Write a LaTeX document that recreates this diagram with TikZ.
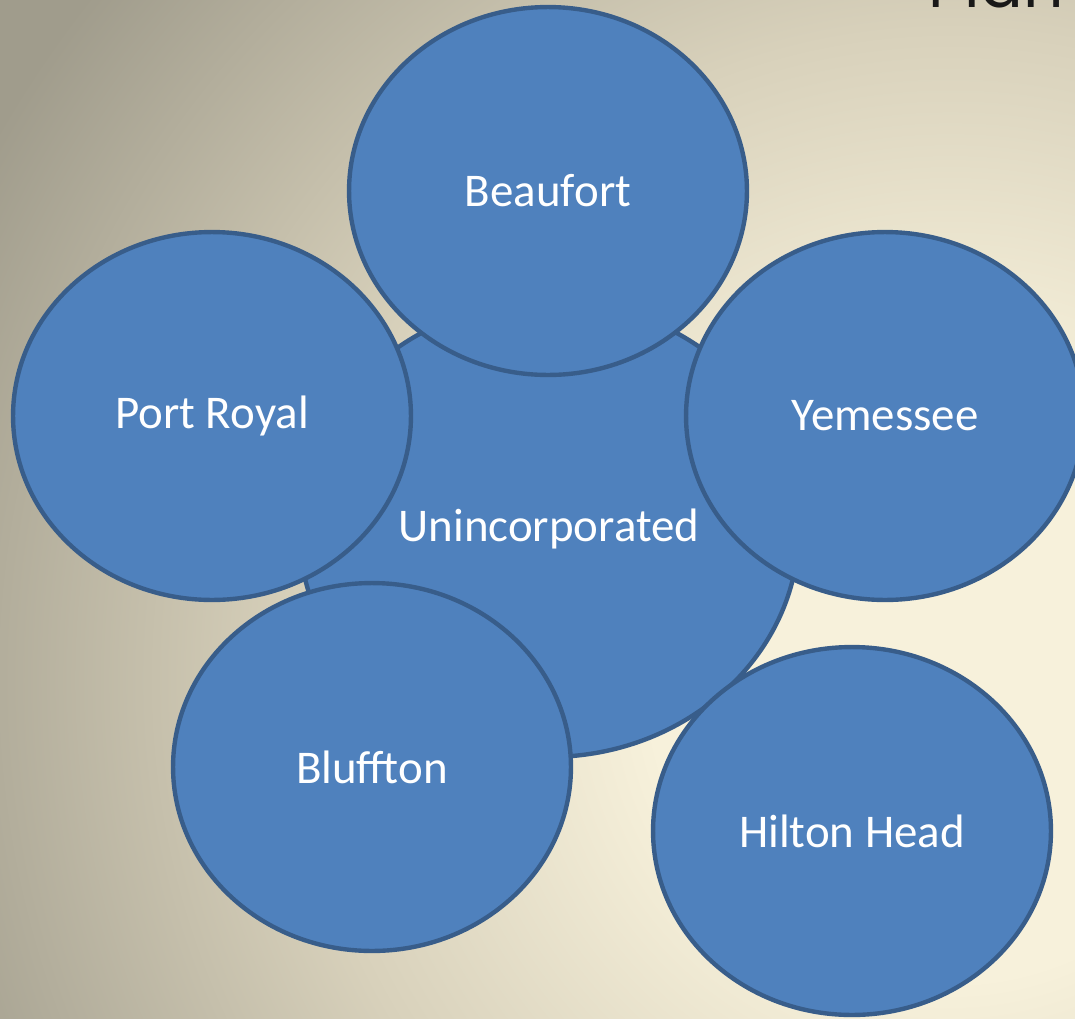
\documentclass[tikz,border=0pt]{standalone}
\usepackage{fontspec}
\setmainfont{Carlito}
\newfontfamily\titlefont{Poppins}
\usetikzlibrary{shapes.geometric}
\definecolor{townfill}{HTML}{4F81BD}
\definecolor{townline}{HTML}{385D8A}
\definecolor{bgcream}{HTML}{F7F1DB}
\definecolor{bgmid}{HTML}{D8D1BB}
\definecolor{bggray}{HTML}{A09C8C}
\pgfdeclareradialshading{bgshade}{\pgfpoint{0bp}{0bp}}{color(0bp)=(bgcream); color(6bp)=(bgcream); color(13bp)=(bgmid); color(22bp)=(bggray); color(50bp)=(bggray)}
\begin{document}
\begin{tikzpicture}[x=0.02cm,y=-0.02cm,
  town/.style={ellipse,draw=townline,line width=2.5pt,fill=townfill,text=white,
    font=\fontsize{26.7}{32}\selectfont,minimum width=7.96cm,minimum height=7.36cm,inner sep=0pt}]
\useasboundingbox (0,0) rectangle (1075,1018);
\clip (0,0) rectangle (1075,1018);
\shade[shading=bgshade] (950,680) circle (1250);
\node[anchor=base west,font={\titlefont\fontsize{36}{40}\selectfont},text=black!90] (plan) at (922,7) {Plan};
\node[town,minimum width=10cm,minimum height=9.12cm] (uninc) at (549,529) {Unincorporated};
\node[town] (beaufort) at (548,191) {Beaufort};
\node[town] (portroyal) at (212,416) {Port Royal};
\node[town] (yemessee) at (885,416) {Yemessee};
\node[town] (bluffton) at (372,767) {Bluffton};
\node[town] (hilton) at (852,831) {Hilton Head};
\end{tikzpicture}
\end{document}
